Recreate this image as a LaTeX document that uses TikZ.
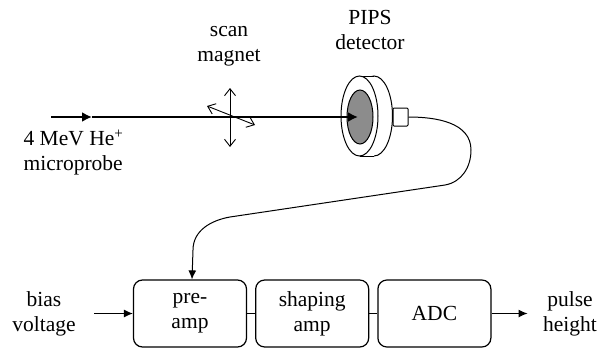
\documentclass[tikz,border=0pt]{standalone}
\usepackage{fontspec}
\setmainfont{Liberation Serif}
\usetikzlibrary{arrows.meta}
\usetikzlibrary{positioning}
\definecolor{gray1}{RGB}{140, 140, 140}

\begin{document}
\begin{tikzpicture}[x=1pt, y=1pt, line width=1.2pt,
  font=\fontsize{21.5}{25}\selectfont,
  block/.style={draw, rounded corners=9pt, minimum width=113pt, minimum height=67pt, inner sep=0pt, align=center},
  lbl/.style={align=center, inner sep=2pt},
  barb/.style={line width=0.9pt, {Straight Barb[length=7pt,width=11pt]}-{Straight Barb[length=7pt,width=11pt]}},
  tip/.style={-{Latex[length=9pt,width=8pt]}}]
  \useasboundingbox (0,0) rectangle (605,349);

  % electronics chain
  \node[block] (preamp) at (190,35.5) {pre-\\amp};
  \node[block, right=8pt of preamp] (shaping) {shaping\\amp};
  \node[block, right=8pt of shaping] (adc) {ADC};

  \node[lbl] (bias) at (44,35.5) {bias\\voltage};
  \node[lbl] (pulse) at (570,35.5) {pulse\\height};

  \foreach \from/\to in {preamp/shaping, shaping/adc}
    \draw[line width=1pt] (\from) -- (\to);
  \draw[tip, line width=1pt, shorten <=16pt] (bias) -- (preamp);
  \draw[tip, line width=1pt, shorten >=13pt] (adc) -- (pulse);

  % detector disc
  \draw[fill=white, line width=1pt] (374,233) ellipse [x radius=18.5, y radius=40];
  \fill[white] (359.5,193) rectangle (374,273);
  \draw[line width=1pt] (359.5,273) -- (374,273) (359.5,193) -- (374,193);
  \draw[fill=white, line width=1pt] (359.5,233) ellipse [x radius=18.5, y radius=40];
  \draw[fill=gray1, line width=1pt] (360,232) ellipse [x radius=13, y radius=27];
  \node[draw, line width=1pt, fill=white, rounded corners=1pt, minimum width=15pt, minimum height=18pt, inner sep=0pt] (plug) at (400.5,232) {};
  \coordinate (sensor) at (358,232);

  % beam
  \coordinate (beamstart) at (51,232);
  \coordinate (beammid) at (92,232);
  \draw[line width=2.2pt, -{Latex[length=10pt,width=10pt]}] (beamstart) -- (beammid);
  \draw[line width=2.2pt, -{Latex[length=10pt,width=10pt]}] (beammid) -- (sensor);

  % scan magnet
  \coordinate (magtop) at (230,261);
  \coordinate (magbot) at (230,202);
  \coordinate (tiltA) at (207,243);
  \coordinate (tiltB) at (255,224);
  \draw[barb] (magtop) -- (magbot);
  \draw[barb] (tiltA) -- (tiltB);

  % cable down to the pre-amp
  \draw[tip, line width=1pt] (plug.east) to[out=0,in=90] (471,199) to[out=-90,in=10] (445,164)
    -- (230,132) to[out=190,in=90] (193,99) -- ([xshift=2pt]preamp.north);

  \node[lbl] (scan) at (229,302.5) {scan\\magnet};
  \node[lbl] (pips) at (370,319) {PIPS\\detector};
  \node[lbl, anchor=west, align=left] (probe) at (21,196.5) {4 MeV He\textsuperscript{+}\\microprobe};
\end{tikzpicture}
\end{document}
